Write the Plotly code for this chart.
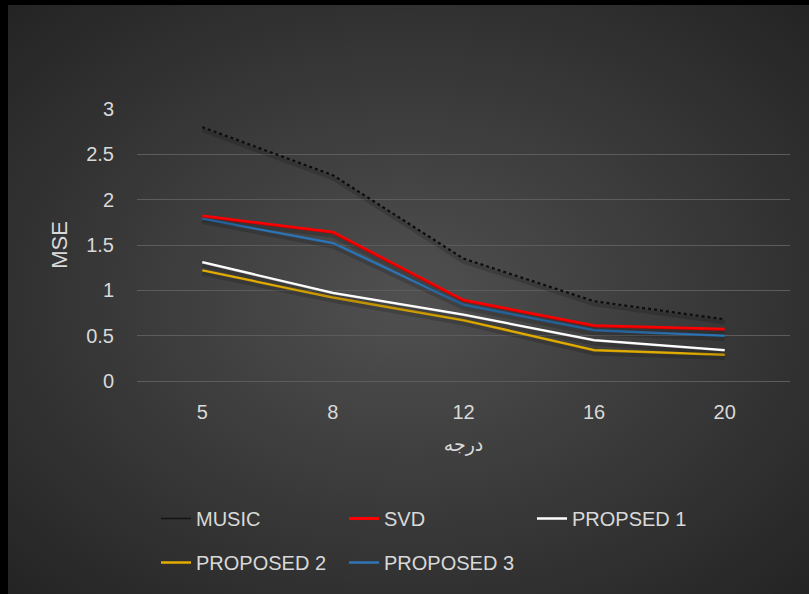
import base64
import plotly.graph_objects as go

# Error (MSE) versus degree for each estimator
degrees = ["5", "8", "12", "16", "20"]
music = [2.80, 2.27, 1.35, 0.88, 0.68]
svd = [1.82, 1.64, 0.89, 0.61, 0.57]
proposed1 = [1.31, 0.97, 0.73, 0.45, 0.34]
proposed2 = [1.22, 0.92, 0.67, 0.34, 0.29]
proposed3 = [1.79, 1.52, 0.84, 0.56, 0.50]
y_ticks = [0, 0.5, 1, 1.5, 2, 2.5, 3]
y_tick_labels = ["0", "0.5", "1", "1.5", "2", "2.5", "3"]

FW, FH = 809, 594
ML, MR, MT, MB = 137, 19, 109, 213
PW, PH = FW - ML - MR, FH - MT - MB
Y_RANGE = [0, 3]
SHADOW_PX = 3  # downward offset of the drop shadow, in pixels

TEXT = "#d9d9d9"
FONT = "Liberation Sans, Arial, sans-serif"

fig = go.Figure()

series = [
    ("MUSIC", music, dict(color="#0d0d0d", width=2.2, dash="dot"), "legend"),
    ("SVD", svd, dict(color="#ff0000", width=3), "legend"),
    ("PROPSED 1", proposed1, dict(color="#ffffff", width=2.5), "legend"),
    ("PROPOSED 2", proposed2, dict(color="#e3ad00", width=2.5), "legend2"),
    ("PROPOSED 3", proposed3, dict(color="#2e75b6", width=2.5), "legend2"),
]

# soft drop shadows, drawn on an overlaid axis shifted a few pixels down
for name, vals, line, _ in series:
    fig.add_trace(go.Scatter(
        x=degrees, y=vals, mode="lines", yaxis="y2", showlegend=False, hoverinfo="skip",
        line=dict(color="rgba(0,0,0,0.16)", width=line["width"] + 2),
    ))

for name, vals, line, leg in series:
    dotted = line.get("dash") == "dot"
    fig.add_trace(go.Scatter(
        x=degrees, y=vals, name=name, mode="lines", line=line, legend=leg,
        showlegend=not dotted,
    ))
    if dotted:
        # the legend key for the dotted series is a plain thin line
        fig.add_trace(go.Scatter(
            x=[None], y=[None], name=name, mode="lines", legend=leg,
            line=dict(color="#141414", width=1.5),
        ))

# soft radial backdrop for the chart area
svg = (
    '<svg xmlns="http://www.w3.org/2000/svg" width="801" height="589">'
    '<defs><radialGradient id="g" cx="50%" cy="50%" r="70%">'
    '<stop offset="0%" stop-color="#505050"/>'
    '<stop offset="100%" stop-color="#242424"/>'
    '</radialGradient></defs>'
    '<rect width="801" height="589" fill="url(#g)"/></svg>'
)
src = "data:image/svg+xml;base64," + base64.b64encode(svg.encode()).decode()


def px_x(px):
    return (px - ML) / PW


def px_y(py):
    return (FH - MB - py) / PH


fig.add_layout_image(
    source=src, xref="paper", yref="paper",
    x=px_x(8), y=px_y(5), sizex=(FW - 8) / PW, sizey=(FH - 5) / PH,
    xanchor="left", yanchor="top", sizing="stretch", layer="below",
)

shift = SHADOW_PX * (Y_RANGE[1] - Y_RANGE[0]) / PH

legend_common = dict(
    orientation="h", xanchor="left", yanchor="top",
    entrywidth=143, entrywidthmode="pixels",
    font=dict(size=20, color=TEXT, family=FONT),
    bgcolor="rgba(0,0,0,0)",
)

fig.update_layout(
    width=FW, height=FH,
    margin=dict(l=ML, r=MR, t=MT, b=MB),
    paper_bgcolor="#000000",
    plot_bgcolor="rgba(0,0,0,0)",
    font=dict(family=FONT, color=TEXT, size=19),
    showlegend=True,
    legend=dict(x=px_x(156), y=px_y(499), **legend_common),
    legend2=dict(x=px_x(156), y=px_y(543), **legend_common),
    xaxis=dict(
        type="category", range=[-0.5, 4.5], showgrid=False, zeroline=False,
        showline=False, ticks="", ticklabelstandoff=17,
        tickfont=dict(size=20, color=TEXT, family=FONT),
        title=dict(text="درجه", font=dict(size=19, color=TEXT, family="DejaVu Sans, sans-serif"), standoff=15),
    ),
    yaxis=dict(
        range=Y_RANGE, tickvals=y_ticks, ticktext=y_tick_labels,
        showgrid=True, gridcolor="#5c5c5c", gridwidth=1,
        zeroline=True, zerolinecolor="#5c5c5c", zerolinewidth=1,
        showline=False, ticks="", ticklabelstandoff=22,
        tickfont=dict(size=20, color=TEXT, family=FONT),
        title=dict(text="MSE", font=dict(size=22, color=TEXT, family=FONT), standoff=12),
    ),
    yaxis2=dict(
        overlaying="y", range=[Y_RANGE[0] + shift, Y_RANGE[1] + shift],
        visible=False, showgrid=False, zeroline=False,
    ),
)

fig.write_html("out.html")
